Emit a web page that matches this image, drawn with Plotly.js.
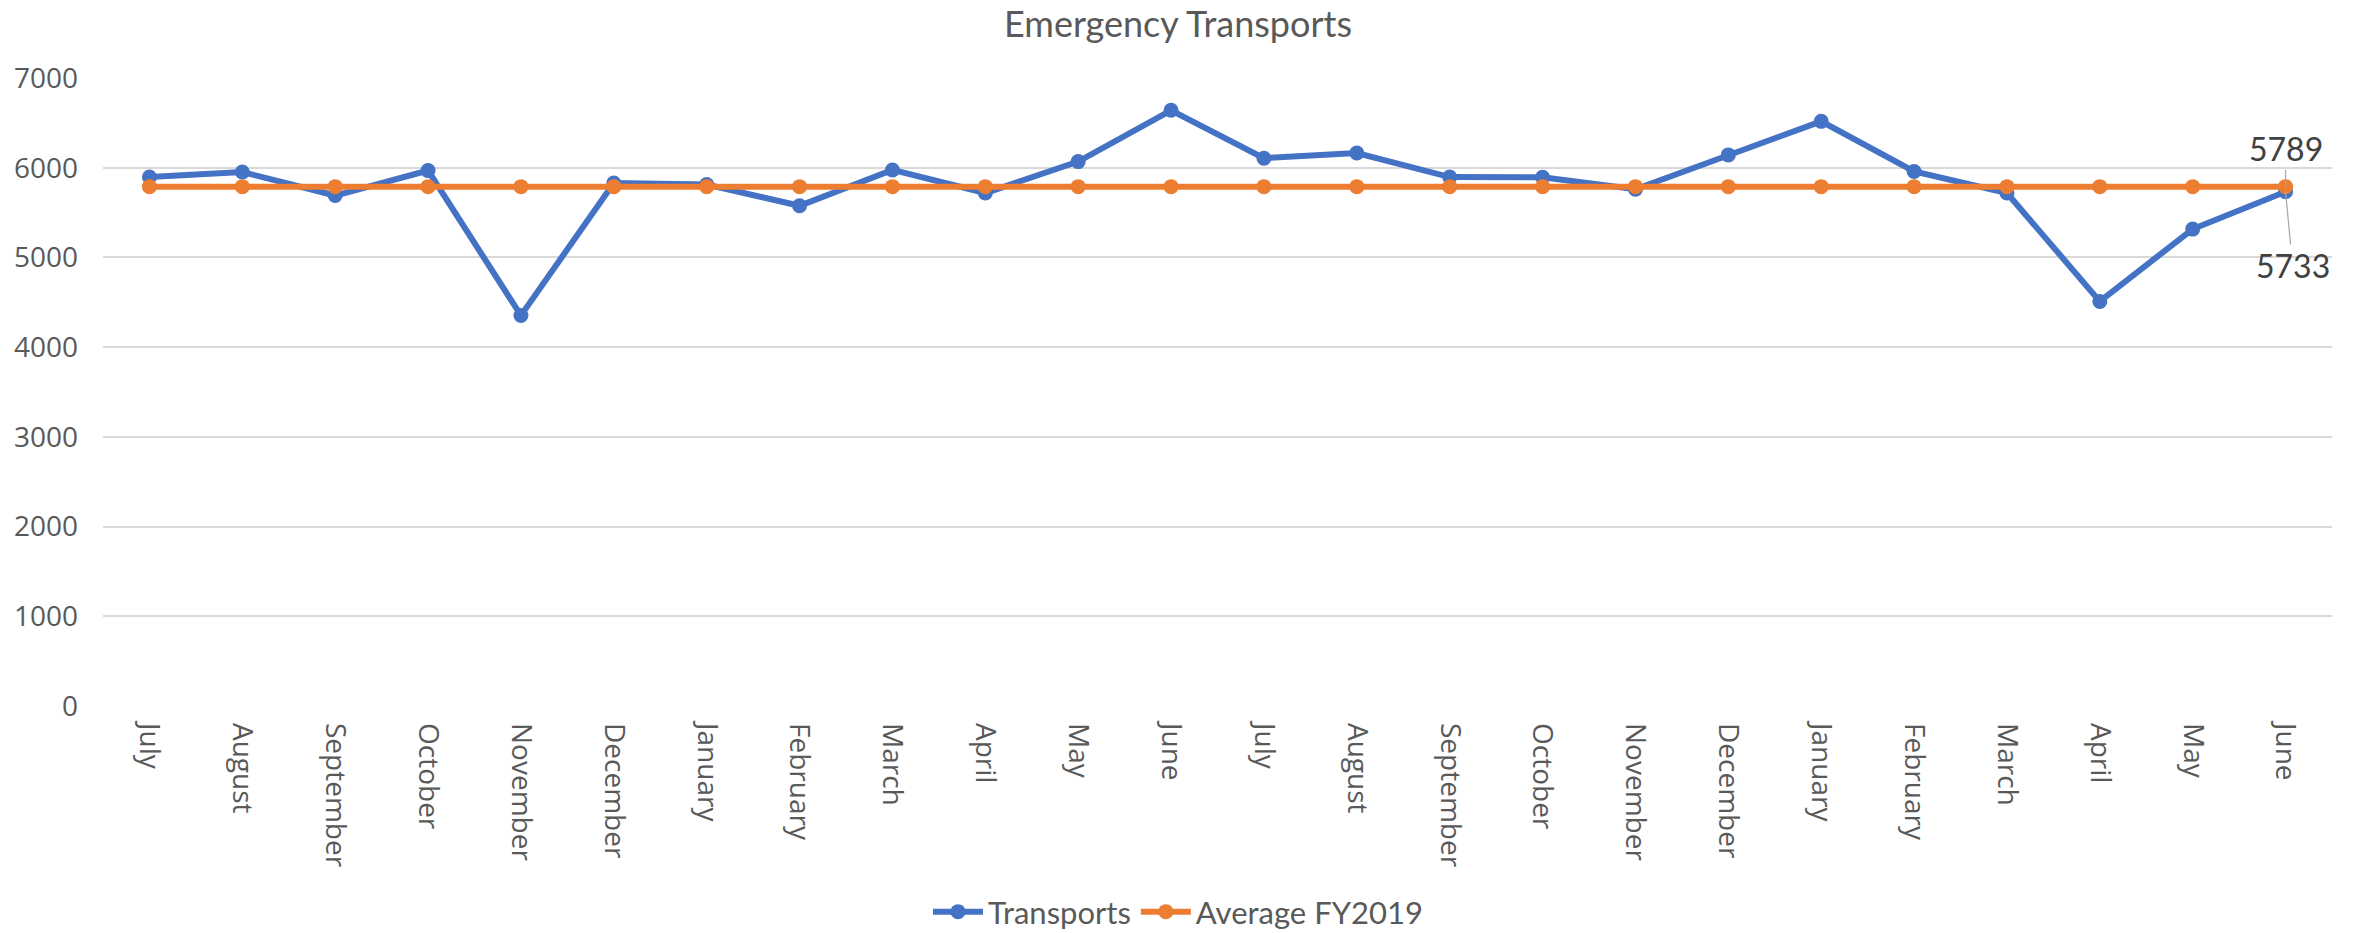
<!DOCTYPE html>
<html>
<head>
<meta charset="utf-8">
<script src="https://cdn.plot.ly/plotly-3.0.1.min.js"></script>
<style>
  html, body { margin: 0; padding: 0; background: #ffffff; }
  #chart { width: 2356px; height: 933px; }
</style>
</head>
<body>
<div id="chart"></div>
<script>
// Month labels (two fiscal years, July..June)
const months = [
  "July", "August", "September", "October", "November", "December",
  "January", "February", "March", "April", "May", "June",
  "July", "August", "September", "October", "November", "December",
  "January", "February", "March", "April", "May", "June"
];

// Monthly emergency transports
const transports = [
  5896, 5952, 5690, 5968, 4353, 5829,
  5812, 5576, 5975, 5718, 6068, 6640,
  6106, 6164, 5896, 5894, 5760, 6143,
  6517, 5958, 5718, 4510, 5316, 5733
];

// FY2019 average (constant reference line)
const averageFY2019 = months.map(() => 5789);

const yTicks = [0, 1000, 2000, 3000, 4000, 5000, 6000, 7000];

const xIdx = months.map((_, i) => i);
const last = months.length - 1;

const traces = [
  {
    type: "scatter",
    mode: "lines+markers",
    name: "Transports",
    x: xIdx,
    y: transports,
    line: { color: "#4472C4", width: 6 },
    marker: { color: "#4472C4", size: 15 },
    hoverinfo: "y"
  },
  {
    type: "scatter",
    mode: "lines+markers",
    name: "Average FY2019",
    x: xIdx,
    y: averageFY2019,
    line: { color: "#ED7D31", width: 6 },
    marker: { color: "#ED7D31", size: 15 },
    hoverinfo: "y"
  }
];

const layout = {
  width: 2356,
  height: 933,
  paper_bgcolor: "#ffffff",
  plot_bgcolor: "#ffffff",
  margin: { l: 103, r: 24, t: 78, b: 227, autoexpand: false },
  title: {
    text: "Emergency Transports",
    font: { family: "Lato, sans-serif", size: 36, color: "#595959" },
    xref: "container", x: 0.5, xanchor: "center",
    yref: "container", y: 0.974, yanchor: "middle"
  },
  xaxis: {
    range: [-0.5, last + 0.5],
    tickmode: "array",
    tickvals: xIdx,
    ticktext: months,
    tickangle: 90,
    showgrid: false,
    zeroline: false,
    showline: false,
    ticks: "",
    automargin: false,
    ticklabelstandoff: 16,
    tickfont: { family: "'Open Sans', sans-serif", size: 28, color: "#595959" },
    fixedrange: true
  },
  yaxis: {
    range: [0, 7000],
    tickmode: "array",
    tickvals: yTicks,
    ticktext: yTicks.map(String),
    showgrid: true,
    gridcolor: "#D9D9D9",
    gridwidth: 2,
    zeroline: false,
    showline: false,
    ticks: "",
    automargin: false,
    ticklabelstandoff: 24,
    tickfont: { family: "'Open Sans', sans-serif", size: 28, color: "#595959" },
    fixedrange: true
  },
  showlegend: true,
  legend: {
    orientation: "h",
    xref: "container",
    x: 0.5, xanchor: "center",
    yref: "container",
    y: 0.0225, yanchor: "middle",
    font: { family: "Lato, sans-serif", size: 31, color: "#595959" },
    itemwidth: 50,
    traceorder: "normal"
  },
  annotations: [
    {
      x: last, y: averageFY2019[last],
      xref: "x", yref: "y",
      text: String(averageFY2019[last]),
      showarrow: true, arrowhead: 0, arrowwidth: 1.2, arrowcolor: "#A6A6A6",
      ax: 0, ay: -38, standoff: 0,
      font: { family: "Lato, sans-serif", size: 32, color: "#404040" }
    },
    {
      x: last, y: transports[last],
      xref: "x", yref: "y",
      text: String(transports[last]),
      showarrow: true, arrowhead: 0, arrowwidth: 1.2, arrowcolor: "#A6A6A6",
      ax: 7, ay: 74, standoff: 0,
      font: { family: "Lato, sans-serif", size: 32, color: "#404040" }
    }
  ]
};

Plotly.newPlot("chart", traces, layout, { displayModeBar: false, staticPlot: true });
</script>
</body>
</html>
